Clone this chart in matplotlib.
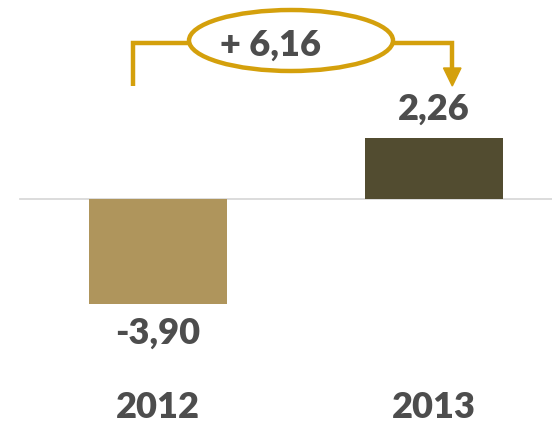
import matplotlib.pyplot as plt
from matplotlib.patches import Ellipse

years = ["2012", "2013"]
values = [-3.90, 2.26]
bar_colors = ["#AF955C", "#524C30"]

gold = "#D4A00C"
text_color = "#4D4D4D"

plt.rcParams['font.family'] = ['Lato', 'DejaVu Sans']

fig = plt.figure(figsize=(5.52, 4.25), dpi=100)
ax = fig.add_axes([0, 0, 1, 1])

# pixels per unit on the value axis
s = 26.9
ax.set_xlim(-158 / 276, (552 - 158) / 276)
ax.set_ylim(-(425 - 199) / s, 199 / s)
ax.axis("off")

x = list(range(len(years)))
ax.bar(x, values, width=0.5, color=bar_colors, zorder=2)

# zero line
ax.plot([(20 - 158) / 276, (552 - 158) / 276], [0, 0], color="#D5D5D5", lw=1.2, zorder=1)

for xi, v, yr in zip(x, values, years):
    off = 29 / s
    ypos = v + off if v >= 0 else v - off
    ax.text(xi, ypos, f"{v:.2f}".replace(".", ","), ha="center", va="center",
            fontsize=26, fontweight="heavy", color=text_color)
    ax.text(xi, -(408 - 199) / s, yr, ha="center", va="center",
            fontsize=26, fontweight="heavy", color=text_color)

# change connector
def px(xp):
    return (xp - 158) / 276

def py(yp):
    return (199 - yp) / s

ax.plot([px(133), px(133), px(452), px(452)],
        [py(86), py(43), py(43), py(70)],
        color=gold, lw=3.2, solid_joinstyle="miter", solid_capstyle="butt", zorder=3)
ax.fill([px(443.5), px(461), px(452.3)], [py(68), py(68), py(86)], color=gold, zorder=3)

ell = Ellipse((px(291), py(40.5)), 204 / 276, 61 / s, facecolor="white",
              edgecolor=gold, lw=3.2, zorder=4)
ax.add_patch(ell)

delta = values[1] - values[0]
ax.text(px(270), py(45), f"+ {delta:.2f}".replace(".", ","), ha="center", va="center",
        fontsize=26, fontweight="heavy", color=text_color, zorder=5)

fig.savefig("out.png", dpi=100)
